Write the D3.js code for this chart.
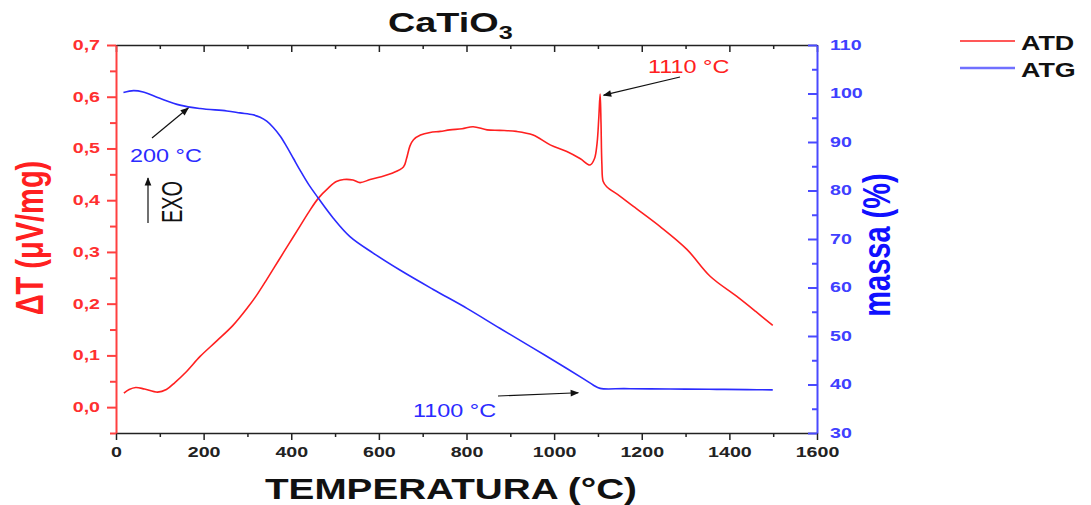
<!DOCTYPE html>
<html>
<head>
<meta charset="utf-8">
<script src="https://cdn.jsdelivr.net/npm/d3@7"></script>
<style>
body { margin: 0; background: #fff; }
text { font-family: "Liberation Sans", Arial, sans-serif; }
</style>
</head>
<body>
<div id="chart"></div>
<script>
// ATD curve: temperature (°C) and ΔT (µV/mg)
var atdTemp = [18, 30, 45, 65, 95, 115, 135, 160, 192, 230, 267, 300, 320, 345, 370, 395, 420, 440, 462, 485,
  503, 520, 541, 557, 580, 603, 630, 656, 663, 671, 679, 695, 717, 740, 762, 790, 815, 847, 876, 914,
  952, 991, 1029, 1060, 1082, 1092, 1098, 1102, 1105, 1107, 1109, 1112, 1120, 1150, 1181, 1242, 1303, 1356, 1417, 1460, 1499];
var atdValue = [0.027, 0.034, 0.038, 0.035, 0.029, 0.034, 0.048, 0.068, 0.098, 0.128, 0.158, 0.192, 0.215, 0.248, 0.282, 0.316, 0.350, 0.377, 0.404, 0.424,
  0.436, 0.440, 0.439, 0.434, 0.440, 0.445, 0.452, 0.464, 0.480, 0.505, 0.517, 0.526, 0.531, 0.533, 0.536, 0.538, 0.542, 0.536, 0.535, 0.533,
  0.526, 0.507, 0.494, 0.480, 0.468, 0.480, 0.510, 0.560, 0.605, 0.550, 0.470, 0.436, 0.426, 0.408, 0.388, 0.349, 0.305, 0.253, 0.214, 0.185, 0.158];

// ATG curve: temperature (°C) and mass (%)
var atgTemp = [17, 40, 62, 100, 146, 192, 253, 283, 313, 329, 344, 359, 375, 390, 405, 420, 440, 462, 496, 534, 587,
  648, 724, 801, 876, 952, 1029, 1070, 1089, 1105, 1160, 1219, 1300, 1371, 1440, 1499];
var atgMass = [100.2, 100.6, 100.3, 99.0, 97.6, 96.9, 96.4, 96.0, 95.6, 95.1, 94.3, 93.0, 91.2, 89.0, 86.6, 84.2, 81.2, 78.4, 74.3, 70.5, 67.1,
  63.6, 59.6, 55.7, 51.6, 47.5, 43.3, 41.0, 39.9, 39.2, 39.15, 39.1, 39.05, 39.0, 38.95, 38.9];

var xTicks = [0, 200, 400, 600, 800, 1000, 1200, 1400, 1600];
var xMinor = [100, 300, 500, 700, 900, 1100, 1300, 1500];
var leftTicks = [0, 0.1, 0.2, 0.3, 0.4, 0.5, 0.6, 0.7];
var leftMinor = [-0.05, 0.05, 0.15, 0.25, 0.35, 0.45, 0.55, 0.65];
var rightTicks = [30, 40, 50, 60, 70, 80, 90, 100, 110];
var rightMinor = [35, 45, 55, 65, 75, 85, 95, 105];
var seriesNames = ["ATD", "ATG"];
var seriesColors = ["#ff2020", "#2b2bff"];

var margin = {top: 45, right: 274, bottom: 72, left: 116},
    width = 1091 - margin.left - margin.right,
    height = 505 - margin.top - margin.bottom;

var x = d3.scaleLinear().domain([0, 1600]).range([0, width]);
var yL = d3.scaleLinear().domain([-0.05, 0.7]).range([height, 0]);
var yR = d3.scaleLinear().domain([30, 110]).range([height, 0]);

var svg = d3.select("#chart").append("svg")
    .attr("width", 1091)
    .attr("height", 505);

svg.append("defs").append("marker")
    .attr("id", "arrow")
    .attr("viewBox", "0 0 10 10")
    .attr("refX", 9).attr("refY", 5)
    .attr("markerWidth", 9).attr("markerHeight", 7)
    .attr("orient", "auto")
  .append("path")
    .attr("d", "M0,1L10,5L0,9Z")
    .attr("fill", "#111");

var g = svg.append("g")
    .attr("transform", "translate(" + margin.left + "," + margin.top + ")");

// widen text horizontally, the source image is stretched
function stretch(sel, k) {
  sel.each(function() {
    var w = this.getComputedTextLength();
    d3.select(this).attr("textLength", w * k).attr("lengthAdjust", "spacingAndGlyphs");
  });
}

function styleLabels(axisG, color) {
  axisG.selectAll("text")
      .attr("fill", color)
      .style("font-size", "14px")
      .style("font-weight", "bold");
  stretch(axisG.selectAll("text"), 1.4);
}

function minorLines(color, w) {
  return function(s) {
    s.select(".domain").remove();
    s.selectAll("line").attr("stroke", color).attr("stroke-width", w);
  };
}

// bottom axis
var axBottom = g.append("g")
    .attr("transform", "translate(0," + height + ")")
    .call(d3.axisBottom(x).tickValues(xTicks).tickSize(7).tickSizeOuter(0).tickPadding(7).tickFormat(d3.format("d")));
axBottom.select(".domain").attr("stroke", "#222").attr("stroke-width", 1.5);
axBottom.selectAll(".tick line").attr("stroke", "#222").attr("stroke-width", 1.5);
styleLabels(axBottom, "#222");
g.append("g")
    .attr("transform", "translate(0," + height + ")")
    .call(d3.axisBottom(x).tickValues(xMinor).tickSize(4).tickFormat(""))
    .call(minorLines("#222", 1.5));

// top axis, ticks inside
var axTop = g.append("g")
    .call(d3.axisTop(x).tickValues(xTicks).tickSizeInner(-7).tickSizeOuter(0).tickFormat(""));
axTop.select(".domain").attr("stroke", "#222").attr("stroke-width", 1.5);
axTop.selectAll("line").attr("stroke", "#222").attr("stroke-width", 1.5);
g.append("g")
    .call(d3.axisTop(x).tickValues(xMinor).tickSizeInner(-4).tickSizeOuter(0).tickFormat(""))
    .call(minorLines("#222", 1.5));

// left axis (ATD)
var axLeft = g.append("g")
    .call(d3.axisLeft(yL).tickValues(leftTicks).tickSize(9).tickSizeOuter(0).tickPadding(7)
      .tickFormat(function(d) { return d3.format(".1f")(d).replace(".", ","); }));
axLeft.select(".domain").attr("stroke", "#ff4040").attr("stroke-width", 2);
axLeft.selectAll(".tick line").attr("stroke", "#ff4040").attr("stroke-width", 2);
styleLabels(axLeft, "#ff3030");
g.append("g")
    .call(d3.axisLeft(yL).tickValues(leftMinor).tickSize(6).tickFormat(""))
    .call(minorLines("#ff4040", 2));

// right axis (ATG), ticks inside
var axRight = g.append("g")
    .attr("transform", "translate(" + width + ",0)")
    .call(d3.axisRight(yR).tickValues(rightTicks).tickSizeInner(-9).tickSizeOuter(0).tickPadding(13));
axRight.select(".domain").attr("stroke", "#4a4aff").attr("stroke-width", 2);
axRight.selectAll(".tick line").attr("stroke", "#4a4aff").attr("stroke-width", 2);
styleLabels(axRight, "#4040ff");
g.append("g")
    .attr("transform", "translate(" + width + ",0)")
    .call(d3.axisRight(yR).tickValues(rightMinor).tickSizeInner(-5).tickSizeOuter(0).tickFormat(""))
    .call(minorLines("#4a4aff", 2));

// curves
var atd = atdTemp.map(function(t, i) { return [t, atdValue[i]]; });
var atg = atgTemp.map(function(t, i) { return [t, atgMass[i]]; });

g.append("path")
    .datum(atd)
    .attr("fill", "none")
    .attr("stroke", seriesColors[0])
    .attr("stroke-width", 1.6)
    .attr("d", d3.line().curve(d3.curveCatmullRom.alpha(0.5))
      .x(function(d) { return x(d[0]); })
      .y(function(d) { return yL(d[1]); }));

g.append("path")
    .datum(atg)
    .attr("fill", "none")
    .attr("stroke", seriesColors[1])
    .attr("stroke-width", 1.6)
    .attr("d", d3.line().curve(d3.curveCatmullRom.alpha(0.5))
      .x(function(d) { return x(d[0]); })
      .y(function(d) { return yR(d[1]); }));

// annotations
function arrow(x1, y1, x2, y2) {
  g.append("line")
      .attr("x1", x1).attr("y1", y1).attr("x2", x2).attr("y2", y2)
      .attr("stroke", "#111").attr("stroke-width", 1.2)
      .attr("marker-end", "url(#arrow)");
}
function note(txt, tx, ty, color) {
  var t = g.append("text")
      .attr("x", tx).attr("y", ty)
      .attr("fill", color)
      .style("font-size", "18px")
      .text(txt);
  stretch(t, 1.3);
}

note("1110 °C", 532, 28, "#ff2020");
arrow(564, 32, x(1113), yL(0.603));
note("200 °C", 14, 117, "#2b2bff");
arrow(36, 93, x(165), yR(97));
note("1100 °C", 297, 372, "#2b2bff");
arrow(382, 351, x(1055), yR(38.3));

// EXO marker
arrow(32, 178, 32, 133);
g.append("text")
    .attr("transform", "translate(66,157) scale(1.45,1) rotate(-90)")
    .attr("text-anchor", "middle")
    .attr("fill", "#111")
    .style("font-size", "20px")
    .text("EXO");

// titles
var title = svg.append("text")
    .attr("x", 388).attr("y", 32)
    .attr("fill", "#111")
    .style("font-size", "27px")
    .style("font-weight", "bold");
title.append("tspan").text("CaTiO");
title.append("tspan").attr("dy", 7).style("font-size", "18px").text("3");
stretch(title, 1.4);

svg.append("text")
    .attr("x", 265).attr("y", 499)
    .attr("fill", "#111")
    .style("font-size", "30px")
    .style("font-weight", "bold")
    .attr("textLength", 372)
    .attr("lengthAdjust", "spacingAndGlyphs")
    .text("TEMPERATURA (°C)");

svg.append("text")
    .attr("transform", "translate(43,238) scale(1.35,1) rotate(-90)")
    .attr("text-anchor", "middle")
    .attr("fill", "#ff2020")
    .style("font-size", "29px")
    .style("font-weight", "bold")
    .text("ΔT (μV/mg)");

svg.append("text")
    .attr("transform", "translate(890,245) scale(1.35,1) rotate(-90)")
    .attr("text-anchor", "middle")
    .attr("fill", "#1010ff")
    .style("font-size", "29px")
    .style("font-weight", "bold")
    .text("massa (%)");

// legend
var legend = svg.append("g").attr("transform", "translate(960,41)");
seriesNames.forEach(function(name, i) {
  legend.append("line")
      .attr("x1", 0).attr("x2", 55)
      .attr("y1", i * 27).attr("y2", i * 27)
      .attr("stroke", i === 0 ? "#ff2020" : "#7070ff")
      .attr("stroke-width", i === 0 ? 1.3 : 2.5);
  var t = legend.append("text")
      .attr("x", 61).attr("y", i * 27 + 9)
      .attr("fill", "#111")
      .style("font-size", "21px")
      .style("font-weight", "bold")
      .text(name);
  stretch(t, 1.28);
});
</script>
</body>
</html>
